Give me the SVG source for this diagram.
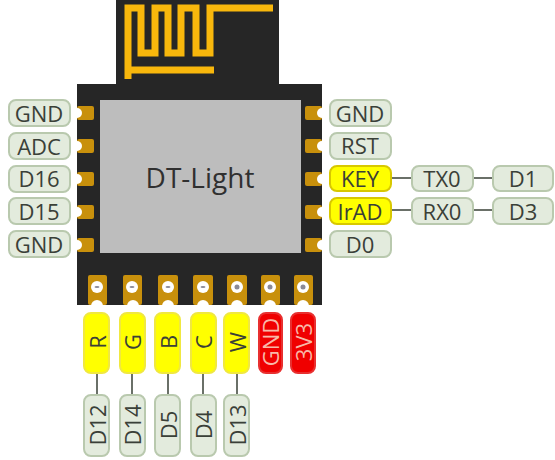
<svg xmlns="http://www.w3.org/2000/svg" width="555" height="460" viewBox="0 0 555 460">
<style>
.lb{stroke-width:2;rx:7px}
.g{fill:#e3ebdd;stroke:#b9c9ae}
.y{fill:#ffff00;stroke:#d8c800}
.yv{fill:#ffff00;stroke:#f0e840}
.r{fill:#f00000;stroke:#e83030}
text{font-family:"Open Sans","Liberation Sans",sans-serif;font-size:22px;fill:#3a4038;text-anchor:middle;dominant-baseline:central}
.rt{fill:#f8b8a8}
.c{stroke:#6a7068;stroke-width:2;fill:none}
.pad{fill:#c8900c}
.hole{fill:#ffffff}
.dot{fill:#8a8a98}
.mk{fill:#9a7a20}
</style>
<g id="board">
<path d="M116 0H279V84H322V305H77V84H116Z" fill="#262626"/>
<rect x="100" y="100" width="201" height="153" fill="#bdbdbd"/>
<path d="M128 79V8H141V53H155V8H168V53H181V8H196V53H210V8H273M128 70H214" fill="none" stroke="#f8b70c" stroke-width="7"/>
<text x="200" y="177" style="font-size:28px;fill:#303030">DT-Light</text>
</g>
<g id="connectors">
<path class="c" d="M391 178H412M473 178H493M391 210H412M473 210H493M97 373V395M132 373V395M168 373V395M203 373V395M237 373V395"/>
</g>
<g id="pads">
<rect class="pad" x="77" y="106" width="17" height="14" rx="2"/><rect class="pad" x="77" y="139" width="17" height="14" rx="2"/><rect class="pad" x="77" y="172" width="17" height="14" rx="2"/><rect class="pad" x="77" y="205" width="17" height="14" rx="2"/><rect class="pad" x="77" y="238" width="17" height="14" rx="2"/>
<rect class="pad" x="305" y="106" width="17" height="14" rx="2"/><rect class="pad" x="305" y="139" width="17" height="14" rx="2"/><rect class="pad" x="305" y="172" width="17" height="14" rx="2"/><rect class="pad" x="305" y="205" width="17" height="14" rx="2"/><rect class="pad" x="305" y="238" width="17" height="14" rx="2"/>
<circle class="hole" cx="77" cy="113" r="5"/><circle class="hole" cx="77" cy="146" r="5"/><circle class="hole" cx="77" cy="179" r="5"/><circle class="hole" cx="77" cy="212" r="5"/><circle class="hole" cx="77" cy="245" r="5"/>
<circle class="hole" cx="322" cy="113" r="5"/><circle class="hole" cx="322" cy="146" r="5"/><circle class="hole" cx="322" cy="179" r="5"/><circle class="hole" cx="322" cy="212" r="5"/><circle class="hole" cx="322" cy="245" r="5"/>
<rect class="pad" x="88" y="275" width="19" height="30" rx="2"/><rect class="pad" x="123" y="275" width="19" height="30" rx="2"/><rect class="pad" x="158" y="275" width="20" height="30" rx="2"/><rect class="pad" x="193" y="275" width="20" height="30" rx="2"/><rect class="pad" x="227" y="275" width="20" height="30" rx="2"/><rect class="pad" x="261" y="275" width="19" height="30" rx="2"/><rect class="pad" x="294" y="275" width="19" height="30" rx="2"/>
<circle class="hole" cx="97" cy="287" r="6"/><circle class="hole" cx="132" cy="287" r="6"/><circle class="hole" cx="168" cy="287" r="6"/><circle class="hole" cx="203" cy="287" r="6"/><circle class="hole" cx="237" cy="287" r="6"/><circle class="hole" cx="270" cy="287" r="6"/><circle class="hole" cx="303" cy="287" r="6"/>
<circle class="hole" cx="97" cy="306" r="6"/><circle class="hole" cx="133" cy="306" r="6"/><circle class="hole" cx="168" cy="306" r="6"/><circle class="hole" cx="203" cy="306" r="6"/><circle class="hole" cx="237" cy="306" r="6"/><circle class="hole" cx="270" cy="306" r="6"/><circle class="hole" cx="303" cy="306" r="6"/>
<ellipse class="dot" cx="97" cy="287" rx="2.5" ry="1"/><ellipse class="dot" cx="132" cy="287" rx="2.5" ry="1"/><ellipse class="dot" cx="168" cy="287" rx="2.5" ry="1"/><ellipse class="dot" cx="203" cy="287" rx="2.5" ry="1"/><circle class="dot" cx="237" cy="287" r="2.5"/><circle class="dot" cx="270" cy="287" r="2.5"/><circle class="dot" cx="303" cy="287" r="2.5"/>
</g>
<g id="pin-gnd-l"><rect class="lb g" x="9" y="100" width="61" height="26"/><text x="39" y="113">GND</text></g>
<g id="pin-adc"><rect class="lb g" x="9" y="133" width="61" height="26"/><text x="39" y="146">ADC</text></g>
<g id="pin-d16"><rect class="lb g" x="9" y="166" width="61" height="26"/><text x="39" y="178">D16</text></g>
<g id="pin-d15"><rect class="lb g" x="9" y="198" width="61" height="26"/><text x="39" y="211">D15</text></g>
<g id="pin-gnd-l2"><rect class="lb g" x="9" y="231" width="61" height="26"/><text x="39" y="244">GND</text></g>
<g id="pin-gnd-r"><rect class="lb g" x="330" y="100" width="61" height="26"/><text x="360" y="113">GND</text></g>
<g id="pin-rst"><rect class="lb g" x="330" y="133" width="61" height="26"/><text x="360" y="145">RST</text></g>
<g id="pin-key"><rect class="lb y" x="330" y="166" width="61" height="25"/><text x="360" y="178">KEY</text></g>
<g id="pin-irad"><rect class="lb y" x="330" y="198" width="61" height="26"/><text x="360" y="211">IrAD</text></g>
<g id="pin-d0"><rect class="lb g" x="330" y="231" width="61" height="26"/><text x="360" y="244">D0</text></g>
<g id="pin-tx0"><rect class="lb g" x="412" y="166" width="61" height="25"/><text x="442" y="178">TX0</text></g>
<g id="pin-rx0"><rect class="lb g" x="412" y="198" width="61" height="26"/><text x="442" y="211">RX0</text></g>
<g id="pin-d1"><rect class="lb g" x="493" y="166" width="60" height="25"/><text x="523" y="178">D1</text></g>
<g id="pin-d3"><rect class="lb g" x="493" y="198" width="60" height="26"/><text x="523" y="211">D3</text></g>
<g id="pin-r"><rect class="lb yv" x="84" y="313" width="25" height="60"/><text transform="translate(97 342) rotate(-90)">R</text></g>
<g id="pin-g"><rect class="lb yv" x="120" y="313" width="25" height="60"/><text transform="translate(132 342) rotate(-90)">G</text></g>
<g id="pin-b"><rect class="lb yv" x="155" y="313" width="25" height="60"/><text transform="translate(168 342) rotate(-90)">B</text></g>
<g id="pin-c"><rect class="lb yv" x="191" y="313" width="25" height="60"/><text transform="translate(203 342) rotate(-90)">C</text></g>
<g id="pin-w"><rect class="lb yv" x="224" y="313" width="25" height="60"/><text transform="translate(237 342) rotate(-90)">W</text></g>
<g id="pin-gnd-b"><rect class="lb r" x="259" y="313" width="23" height="60"/><text class="rt" transform="translate(270 342) rotate(-90)">GND</text></g>
<g id="pin-3v3"><rect class="lb r" x="291" y="313" width="24" height="60"/><text class="rt" transform="translate(303 342) rotate(-90)">3V3</text></g>
<g id="pin-d12"><rect class="lb g" x="84" y="395" width="25" height="61"/><text transform="translate(97 425) rotate(-90)">D12</text></g>
<g id="pin-d14"><rect class="lb g" x="120" y="395" width="25" height="61"/><text transform="translate(132 425) rotate(-90)">D14</text></g>
<g id="pin-d5"><rect class="lb g" x="155" y="395" width="25" height="61"/><text transform="translate(168 425) rotate(-90)">D5</text></g>
<g id="pin-d4"><rect class="lb g" x="191" y="395" width="25" height="61"/><text transform="translate(203 425) rotate(-90)">D4</text></g>
<g id="pin-d13"><rect class="lb g" x="224" y="395" width="25" height="61"/><text transform="translate(237 425) rotate(-90)">D13</text></g>
</svg>
